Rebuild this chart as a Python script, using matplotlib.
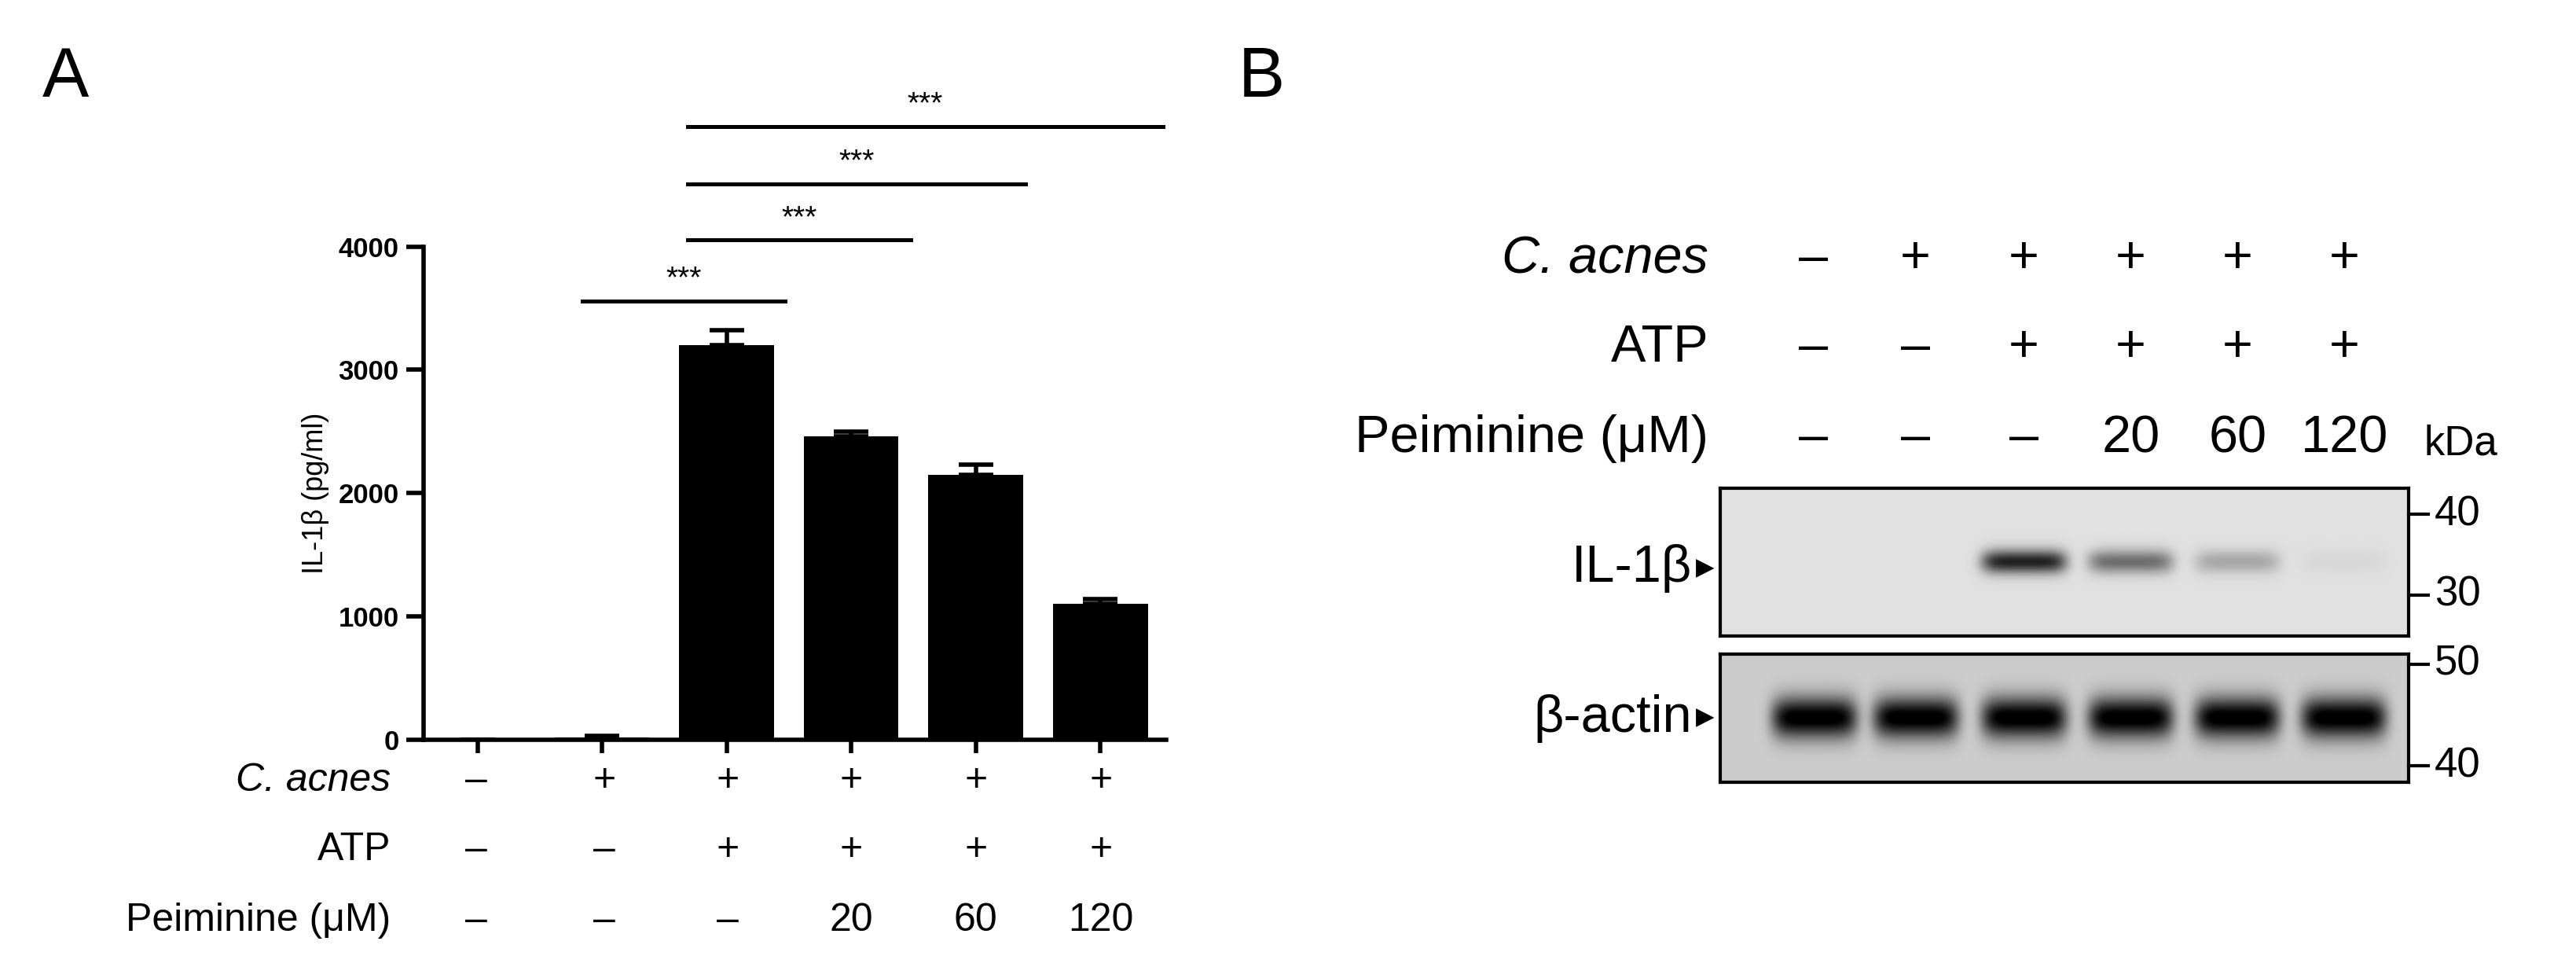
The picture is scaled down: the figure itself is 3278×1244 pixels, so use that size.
import matplotlib
matplotlib.use("Agg")
import matplotlib.pyplot as plt
import numpy as np

plt.rcParams.update({"font.family": ["Liberation Sans", "DejaVu Sans"]})

# ─── Data ───────────────────────────────────────────────
il1b_mean = [0, 20, 3200, 2460, 2150, 1100]
il1b_err = [0, 10, 120, 40, 80, 40]
cacnes_row = ["–", "+", "+", "+", "+", "+"]
atp_row = ["–", "–", "+", "+", "+", "+"]
peim_row = ["–", "–", "–", "20", "60", "120"]
# significance brackets: (x_start, x_end, y)
sig_lines = [(0.84, 2.47, 3560), (1.69, 3.48, 4053), (1.69, 4.40, 4507), (1.69, 5.50, 4973)]
yticks = [0, 1000, 2000, 3000, 4000]

blot_il1b = [0.0, 0.0, 1.0, 0.6, 0.3, 0.05]
blot_actin = [1.0, 1.0, 1.0, 1.0, 1.0, 1.0]
peim_b = ["–", "–", "–", "20", "60", "120"]

W, H = 1568, 595   # reference layout in display pixels


def fx(p):
    return p / W


def fy(p):
    return 1 - p / H


fig = plt.figure(figsize=(16.39, 6.22), dpi=200)

# ─── Panel A ───────────────────────────────────────────
ax = fig.add_axes([fx(258), fy(450), fx(710) - fx(258), fy(150) - fy(450)])
x = np.arange(len(il1b_mean))
ax.bar(x, il1b_mean, width=0.76, color="black", zorder=2)
ax.errorbar(x, il1b_mean, yerr=[np.zeros(6), il1b_err], fmt="none",
            ecolor="black", elinewidth=2, capsize=8, capthick=2)
ax.set_xlim(-0.43, 5.53)
ax.set_ylim(0, 4000)
ax.set_yticks(yticks)
ax.set_yticklabels([str(v) for v in yticks], fontsize=12.5, fontweight="bold")
ax.set_xticks(x)
ax.set_xticklabels([])
ax.tick_params(axis="x", length=6, width=2)
ax.tick_params(axis="y", length=8, width=2)
for s in ("top", "right"):
    ax.spines[s].set_visible(False)
for s in ("left", "bottom"):
    ax.spines[s].set_linewidth(2)
ax.set_ylabel("IL-1β (pg/ml)", fontsize=13)
for x0, x1, yv in sig_lines:
    ax.plot([x0, x1], [yv, yv], color="black", lw=1.8, clip_on=False)
    ax.text((x0 + x1) / 2, yv + 60, "***", ha="center", va="bottom", fontsize=14)

bar_px = [290, 368, 443, 518, 594, 670]
for row, py, lab, style in [(cacnes_row, 475, "C. acnes", "italic"),
                            (atp_row, 517, "ATP", "normal"),
                            (peim_row, 560, "Peiminine (μM)", "normal")]:
    fig.text(fx(238), fy(py), lab, ha="right", va="center", fontsize=18, style=style)
    for px, t in zip(bar_px, row):
        fig.text(fx(px), fy(py), t, ha="center", va="center", fontsize=18)

fig.text(fx(40), fy(48), "A", ha="center", va="center", fontsize=32)
fig.text(fx(768), fy(48), "B", ha="center", va="center", fontsize=32)

# ─── Panel B ───────────────────────────────────────────
lane_px = [1104, 1166, 1232, 1297, 1362, 1427]
for row, py, lab, style in [(cacnes_row, 158, "C. acnes", "italic"),
                            (atp_row, 212, "ATP", "normal"),
                            (peim_b, 267, "Peiminine (μM)", "normal")]:
    fig.text(fx(1040), fy(py), lab, ha="right", va="center", fontsize=24, style=style)
    for px, t in zip(lane_px, row):
        fig.text(fx(px), fy(py), t, ha="center", va="center", fontsize=24)
fig.text(fx(1498), fy(270), "kDa", ha="center", va="center", fontsize=19)


def blot(top, bot, vals, band_h, darkness, bg):
    bax = fig.add_axes([fx(1047), fy(bot), fx(1466) - fx(1047), fy(top) - fy(bot)])
    nx, ny = 420, 90
    xs = np.linspace(1047, 1466, nx)
    ys = np.linspace(-1, 1, ny)
    img = np.full((ny, nx), bg)
    for lx, v in zip(lane_px, vals):
        prof_x = np.exp(-((xs - lx) / 26) ** 6)
        prof_y = np.exp(-(ys / band_h) ** 2)
        img -= darkness * v * np.outer(prof_y, prof_x)
    bax.imshow(np.clip(img, 0, 1), cmap="gray", vmin=0, vmax=1, aspect="auto",
               extent=[1047, 1466, bot, top])
    bax.set_xticks([])
    bax.set_yticks([])
    for s in bax.spines.values():
        s.set_linewidth(1.5)
    return bax


blot(297, 387, blot_il1b, 0.16, 0.75, 0.88)
blot(398, 476, blot_actin, 0.32, 0.85, 0.80)

fig.text(fx(1030), fy(346), "IL-1β", ha="right", va="center", fontsize=24)
fig.text(fx(1030), fy(437), "β-actin", ha="right", va="center", fontsize=24)
for py in (346, 437):
    fig.text(fx(1032), fy(py), "▶", ha="left", va="center", fontsize=11)

for py, lab in [(313, "40"), (362, "30"), (404, "50"), (466, "40")]:
    fig.add_artist(plt.Line2D([fx(1466), fx(1478)], [fy(py), fy(py)],
                              color="black", lw=1.5, transform=fig.transFigure))
    fig.text(fx(1482), fy(py), lab, ha="left", va="center", fontsize=19)

fig.savefig("out.png", dpi=200, facecolor="white")
